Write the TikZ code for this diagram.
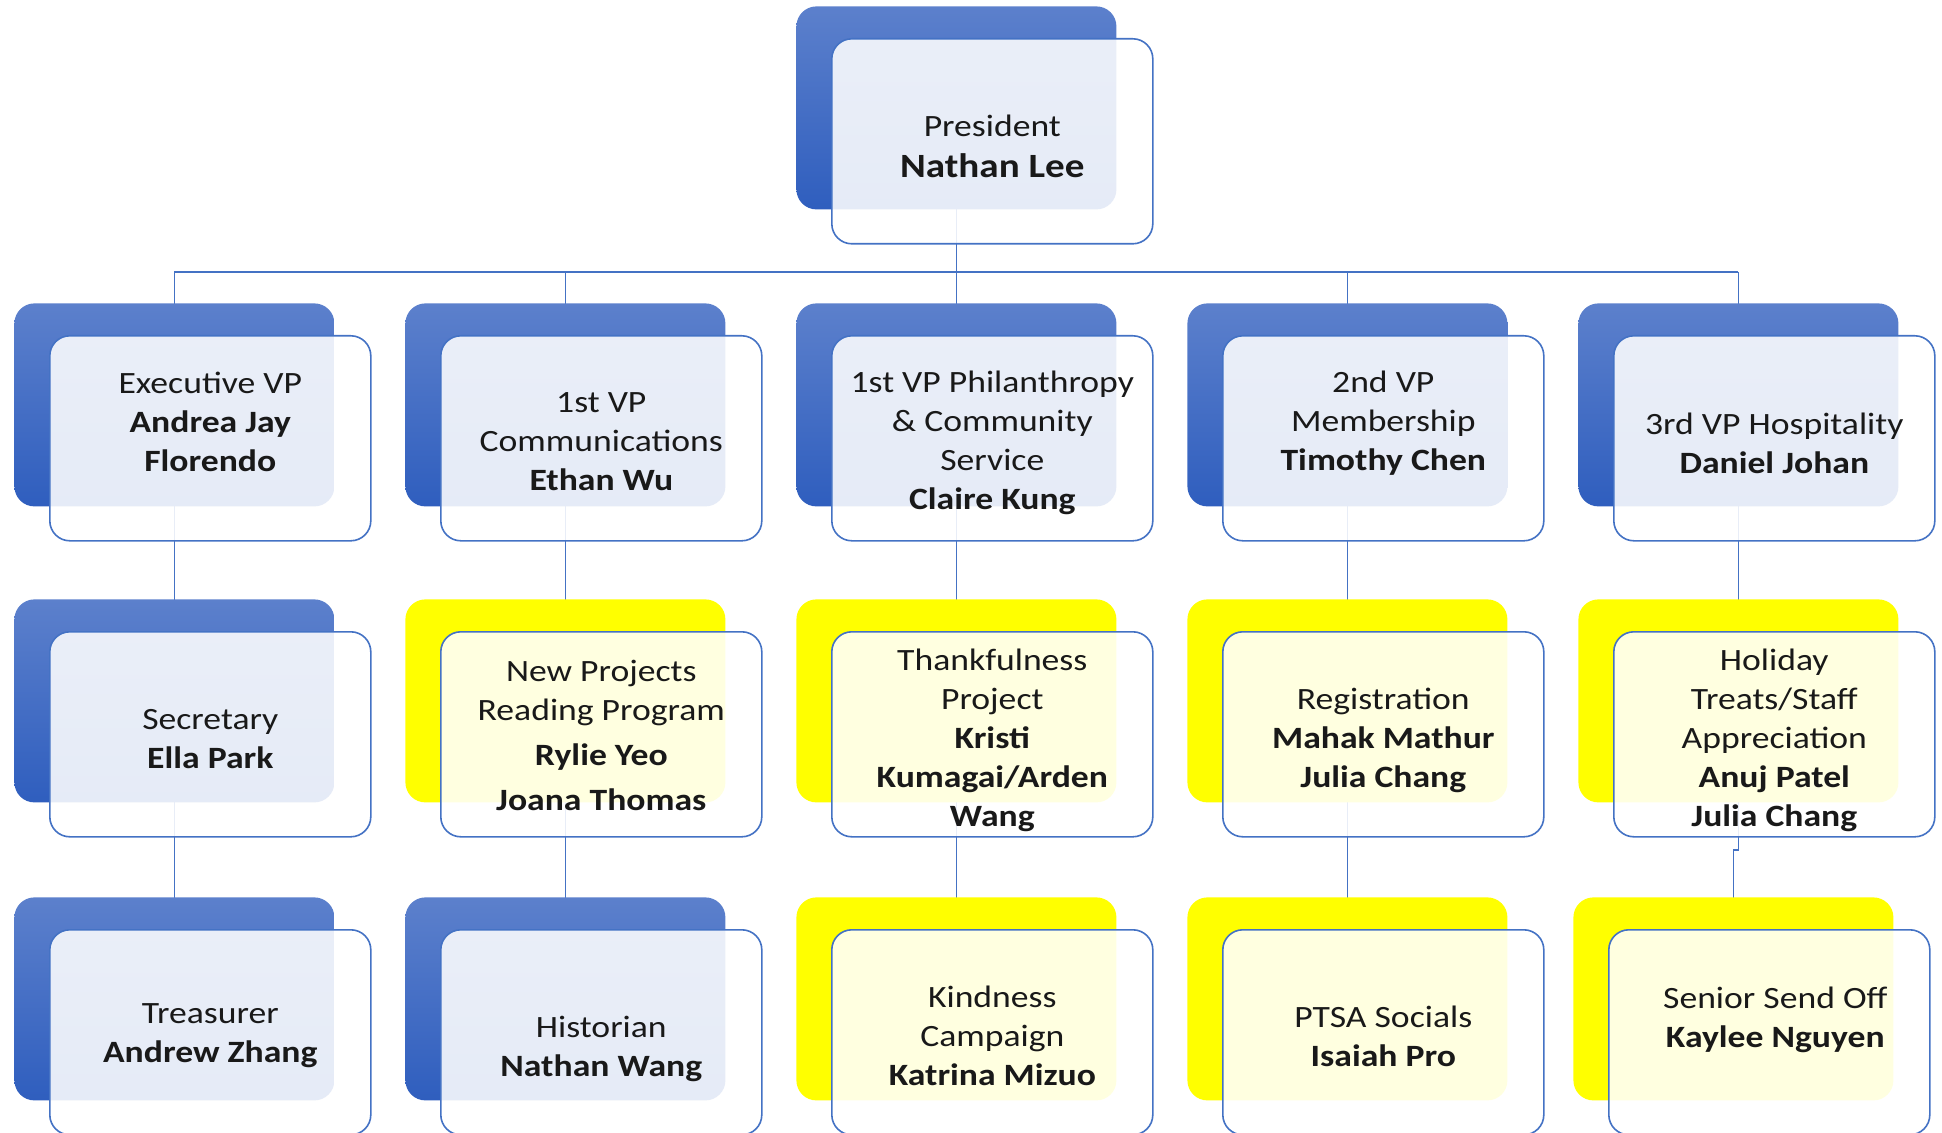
\documentclass[tikz,border=0pt]{standalone}
\usepackage{fontspec}
\setmainfont[FakeStretch=1.15]{Carlito}
\usetikzlibrary{backgrounds,calc}

\definecolor{linkblue}{RGB}{68,114,196}
\definecolor{backtop}{RGB}{92,128,204}
\definecolor{backbot}{RGB}{47,94,190}
\definecolor{hiyellow}{RGB}{255,255,0}
\definecolor{inktext}{RGB}{25,25,25}

\tikzset{
  backbase/.style={anchor=north west, inner sep=0pt, minimum width=160pt,
    minimum height=101.5pt, rounded corners=10pt},
  backblue/.style={backbase, top color=backtop, bottom color=backbot},
  backyellow/.style={backbase, fill=hiyellow},
  frontbox/.style={anchor=north west, inner sep=0pt, minimum width=160.5pt,
    minimum height=102.5pt, rounded corners=10pt, draw=linkblue,
    line width=0.8pt, fill=white, fill opacity=0.88},
  boxtext/.style={align=center, inner sep=0pt, text=inktext,
    font=\fontsize{15.5pt}{19.5pt}\selectfont},
  link/.style={draw=linkblue, line width=0.8pt}
}

% one chart unit: back tab, translucent front card, caption
% #1 name, #2 back x, #3 back y, #4 back style, #5 caption centre y, #6 caption
\newcommand{\OrgUnit}[6]{%
  \node[#4] (b#1) at (#2,#3) {};
  \node[frontbox] (f#1) at ($(#2,#3)+(35,32)$) {};
  \node[boxtext] (t#1) at ($(f#1.north)+(0,#5-#3-28)$) {#6};
}

\begin{document}
\begin{tikzpicture}[x=0.5pt, y=-0.5pt]
\useasboundingbox (0,0) rectangle (1942,1133);

% top
\OrgUnit{00}{796}{6}{backblue}{142}{President\\[1pt]{\fontsize{17pt}{20pt}\selectfont\bfseries Nathan Lee}}

% vice presidents
\OrgUnit{10}{14}{303}{backblue}{418}{Executive VP\\\textbf{Andrea Jay}\\\textbf{Florendo}}
\OrgUnit{11}{405}{303}{backblue}{438}{1st VP\\Communications\\\textbf{Ethan Wu}}
\OrgUnit{12}{796}{303}{backblue}{439}{1st VP Philanthropy\\\& Community\\Service\\\textbf{Claire Kung}}
\OrgUnit{13}{1187}{303}{backblue}{419}{2nd VP\\Membership\\\textbf{Timothy Chen}}
\OrgUnit{14}{1578}{303}{backblue}{439}{3rd VP Hospitality\\\textbf{Daniel Johan}}

% second level
\OrgUnit{20}{14}{599}{backblue}{735}{Secretary\\\textbf{Ella Park}}
\OrgUnit{21}{405}{599}{backyellow}{731}{New Projects\\Reading Program\\[3pt]\textbf{Rylie Yeo}\\[3pt]\textbf{Joana Thomas}}
\OrgUnit{22}{796}{599}{backyellow}{736}{Thankfulness\\Project\\\textbf{Kristi}\\\textbf{Kumagai/Arden}\\\textbf{Wang}}
\OrgUnit{23}{1187}{599}{backyellow}{736}{Registration\\\textbf{Mahak Mathur}\\\textbf{Julia Chang}}
\OrgUnit{24}{1578}{599}{backyellow}{736}{Holiday\\Treats/Staff\\Appreciation\\\textbf{Anuj Patel}\\\textbf{Julia Chang}}

% third level
\OrgUnit{30}{14}{897}{backblue}{1032}{Treasurer\\\textbf{Andrew Zhang}}
\OrgUnit{31}{405}{897}{backblue}{1045}{Historian\\\textbf{Nathan Wang}}
\OrgUnit{32}{796}{897}{backyellow}{1032}{Kindness\\Campaign\\\textbf{Katrina Mizuo}}
\OrgUnit{33}{1187}{897}{backyellow}{1032}{PTSA Socials\\\textbf{Isaiah Pro}}
\OrgUnit{34}{1573}{897}{backyellow}{1016}{\hspace*{6pt}Senior Send Off\\\hspace*{6pt}\textbf{Kaylee Nguyen}}

% connectors, behind the cards
\coordinate (bus) at (0,272);
\coordinate (jog) at (0,850);
\begin{scope}[on background layer]
  \draw[link] (b00.center) -- (b00.center |- bus);
  \draw[link] (b10.center |- bus) -- (b14.center |- bus);
  \foreach \c in {0,...,4} {
    \draw[link] (b1\c.center |- bus) -- (b1\c.center);
    \draw[link] (b1\c.center) -- (b2\c.center);
  }
  \foreach \c in {0,...,3} {
    \draw[link] (b2\c.center) -- (b3\c.center);
  }
  \draw[link] (b24.center) -- (b24.center |- jog) -- (b34.center |- jog) -- (b34.center);
\end{scope}
\end{tikzpicture}
\end{document}
